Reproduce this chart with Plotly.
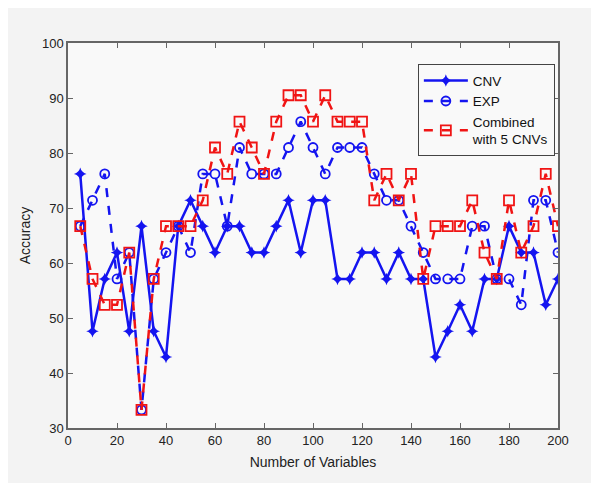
import plotly.graph_objects as go

x_vars = list(range(5, 201, 5))

cnv = [76.2, 47.6, 57.1, 61.9, 47.6, 66.7, 47.6, 42.9, 66.7, 71.4,
       66.7, 61.9, 66.7, 66.7, 61.9, 61.9, 66.7, 71.4, 61.9, 71.4,
       71.4, 57.1, 57.1, 61.9, 61.9, 57.1, 61.9, 57.1, 57.1, 42.9,
       47.6, 52.4, 47.6, 57.1, 57.1, 66.7, 61.9, 61.9, 52.4, 57.1]

exp = [66.7, 71.4, 76.2, 57.1, 61.9, 33.3, 57.1, 61.9, 66.7, 61.9,
       76.2, 76.2, 66.7, 81.0, 76.2, 76.2, 76.2, 81.0, 85.7, 81.0,
       76.2, 81.0, 81.0, 81.0, 76.2, 71.4, 71.4, 66.7, 61.9, 57.1,
       57.1, 57.1, 66.7, 66.7, 57.1, 57.1, 52.4, 71.4, 71.4, 61.9]

combined = [66.7, 57.1, 52.4, 52.4, 61.9, 33.3, 57.1, 66.7, 66.7, 66.7,
            71.4, 81.0, 76.2, 85.7, 81.0, 76.2, 85.7, 90.5, 90.5, 85.7,
            90.5, 85.7, 85.7, 85.7, 71.4, 76.2, 71.4, 76.2, 57.1, 66.7,
            66.7, 66.7, 71.4, 61.9, 57.1, 71.4, 61.9, 66.7, 76.2, 66.7]

x_ticks = list(range(0, 201, 20))
y_ticks = list(range(30, 101, 10))

BLUE = "#1414f0"
RED = "#f01414"

fig = go.Figure()
fig.add_trace(go.Scatter(
    x=x_vars, y=cnv, name="CNV", mode="lines+markers",
    line=dict(color=BLUE, width=2.5),
    marker=dict(symbol="star-diamond", size=9, color=BLUE),
))
fig.add_trace(go.Scatter(
    x=x_vars, y=exp, name="EXP", mode="lines+markers",
    line=dict(color=BLUE, width=2.5, dash="dash"),
    marker=dict(symbol="circle-open", size=9, color=BLUE, line=dict(width=1.8)),
))
fig.add_trace(go.Scatter(
    x=x_vars, y=combined, name="Combined<br>with 5 CNVs", mode="lines+markers",
    line=dict(color=RED, width=2.5, dash="dash"),
    marker=dict(symbol="square-open", size=10, color=RED, line=dict(width=1.8)),
))

axis_common = dict(
    showline=True, linecolor="#666666", linewidth=1.5, mirror="ticks",
    ticks="inside", ticklen=5, tickcolor="#666666", showgrid=False, zeroline=False,
    tickfont=dict(family="Liberation Sans, Arial, sans-serif", size=13, color="#222222"),
)

fig.update_layout(
    width=583, height=475,
    margin=dict(l=60, r=33, t=35, b=55),
    paper_bgcolor="#f3f3f3",
    plot_bgcolor="#f9f9f9",
    font=dict(family="Liberation Sans, Arial, sans-serif", size=13, color="#222222"),
    xaxis=dict(range=[0, 200], tickvals=x_ticks,
               title=dict(text="Number of Variables", standoff=10,
                          font=dict(size=14)), **axis_common),
    yaxis=dict(range=[30, 100], tickvals=y_ticks,
               title=dict(text="Accuracy", standoff=8, font=dict(size=14)),
               **axis_common),
    legend=dict(x=0.714, y=0.945, xanchor="left", yanchor="top",
                bgcolor="#f9f9f9", bordercolor="#444444", borderwidth=1,
                font=dict(size=13.5, color="#111111"), tracegroupgap=0,
                itemwidth=44),
    showlegend=True,
)

fig.write_html("out.html")
